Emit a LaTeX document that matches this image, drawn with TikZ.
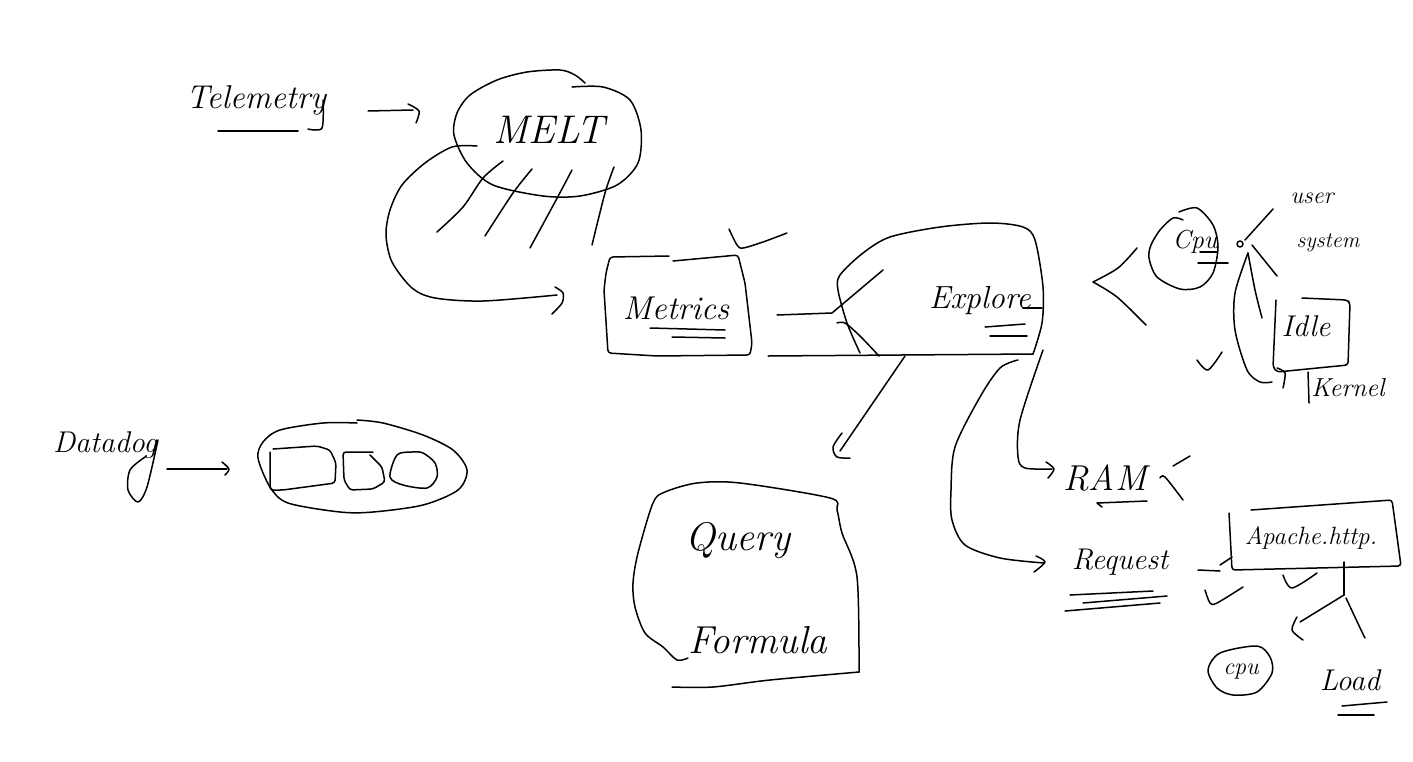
\documentclass[tikz,border=0pt]{standalone}
\usetikzlibrary{calc}
\tikzset{
    ink/.style={line width=1.5pt, line cap=round, line join=round, black},
    boxink/.style={ink, rounded corners=3pt},
    word/.style={inner sep=0pt, font=\fontsize{#1}{#1}\selectfont\itshape},
}

\begin{document}
\begin{tikzpicture}[x=1pt, y=-1pt]

    \useasboundingbox (0,0) rectangle (1413,761);
    \fill[white] (0,0) rectangle (1413,761);

    % words
    \node[word=33] (telemetry) at (256,100) {Telemetry};
    \node[word=40] (melt) at (549,130) {MELT};
    \node[word=33] (metrics) at (676,308) {Metrics};
    \node[word=32] (explore) at (980,300) {Explore};
    \node[word=26] (cpubig) at (1195,242) {Cpu};
    \node[word=24] (user) at (1312,198) {user};
    \node[word=22] (system) at (1328,243) {system};
    \node[word=30] (idle) at (1306,326) {Idle};
    \node[word=26] (kernel) at (1348,388) {Kernel};
    \node[word=30] (datadog) at (105,445) {Datadog};
    \node[word=36] (ram) at (1105,478) {RAM};
    \node[word=30] (request) at (1120,562) {Request};
    \node[word=25] (apache) at (1311,538) {Apache.http.};
    \node[word=40] (query) at (738,540) {Query};
    \node[word=39] (formula) at (758,640) {Formula};
    \node[word=24] (cpusmall) at (1241,672) {cpu};
    \node[word=30] (load) at (1350,680) {Load};

    % connector ends
    \coordinate (telout) at (368,111);
    \coordinate (telin) at (419,111);
    \coordinate (loopout) at (477,146);
    \coordinate (loopin) at (557,295);
    \coordinate (dogout) at (167,469);
    \coordinate (dogin) at (229,469);
    \coordinate (metout) at (777,315);
    \coordinate (queryout) at (905,356);
    \coordinate (queryin) at (840,451);
    \coordinate (requestout) at (1018,360);
    \coordinate (requestin) at (1044,563);
    \coordinate (ramout) at (1043,350);
    \coordinate (ramin) at (1052,469);
    \coordinate (apacheout) at (1198,570);
    \coordinate (apachein) at (1232,557);
    \coordinate (fork) at (1344,595);
    \coordinate (dot) at (1240,244);
    \coordinate (cpufork) at (1093,282);

    % telemetry and melt
    \draw[ink] (218,131) -- (298,131);
    \draw[ink] plot[smooth] coordinates {(308,129) (322,128) (323,100)};
    \draw[ink] (telout) -- (413,110);
    \draw[ink] plot[smooth] coordinates {(408,104) (telin) (416,123)};
    \draw[ink] plot[smooth] coordinates {(585,83) (575,75) (560,70) (527,72) (497,80) (470,95) (457,113) (454,135) (467,163) (493,185) (543,196) (580,196) (617,185) (638,163) (641,130) (630,100) (603,87) (572,87)};
    \draw[ink] plot[smooth] coordinates {(503,161) (483,178) (463,207) (437,232)};
    \draw[ink] plot[smooth] coordinates {(532,169) (513,193) (485,236)};
    \draw[ink] plot[smooth] coordinates {(572,170) (555,202) (530,248)};
    \draw[ink] plot[smooth] coordinates {(614,167) (605,193) (592,245)};
    \draw[ink] plot[smooth] coordinates {(loopout) (452,147) (425,163) (402,185) (390,210) (386,235) (392,262) (412,288) (435,298) (483,301) (loopin)};
    \draw[ink] plot[smooth] coordinates {(555,287) (563,293) (562,303) (552,314)};

    % metrics
    \draw[boxink] (669,256) -- (610,257) -- (606,273) -- (604,290) -- (608,353) -- (657,356) -- (750,355) -- (752,343) -- (745,283) -- (738,255) -- (673,261);
    \draw[ink] plot[smooth] coordinates {(729,229) (737,245) (743,248) (763,242) (787,233)};
    \draw[ink] (650,328) -- (725,330);
    \draw[ink] (672,337) -- (725,338);

    % explore
    \draw[ink] plot[smooth] coordinates {(1033,354) (1042,323) (1043,287) (1035,240) (1023,227) (990,223) (940,227) (890,237) (863,253) (840,275) (838,290) (847,323) (860,353)};
    \draw[ink] (768,356) -- (1033,354);
    \draw[ink] (metout) -- (832,313) -- (883,270);
    \draw[ink] plot[smooth] coordinates {(837,323) (845,323) (860,336) (879,356)};
    \draw[ink] (1023,308) -- (1042,308);
    \draw[ink] (985,327) -- (1025,324);
    \draw[ink] (990,336) -- (1027,336);

    % query
    \draw[ink] (queryout) -- (queryin);
    \draw[ink] plot[smooth] coordinates {(842,433) (833,447) (837,457) (850,458)};
    \draw[ink] plot[smooth] coordinates {(688,658) (677,660) (663,647) (645,633) (635,607) (633,583) (638,553) (653,503) (665,492) (697,483) (740,483) (830,498) (837,510) (842,533) (857,577) (859,672)};
    \draw[ink] plot[smooth] coordinates {(859,672) (770,680) (713,687) (672,687)};

    % request and ram
    \draw[ink] plot[smooth] coordinates {(requestout) (1000,368) (980,397) (955,447) (951,490) (952,520) (965,545) (1000,558) (requestin)};
    \draw[ink] plot[smooth] coordinates {(1036,556) (1045,562) (1034,572)};
    \draw[ink] plot[smooth] coordinates {(ramout) (1020,420) (1018,457) (1025,468) (ramin)};
    \draw[ink] plot[smooth] coordinates {(1046,462) (1054,469) (1048,478)};
    \draw[ink] (1147,501) -- (1097,503) -- (1102,507);
    \draw[ink] (1190,456) -- (1173,466);
    \draw[ink] plot[smooth] coordinates {(1160,478) (1165,477) (1183,500)};
    \draw[ink] (1070,595) -- (1153,591);
    \draw[ink] (1083,603) -- (1167,596);
    \draw[ink] (1065,611) -- (1160,603);

    % apache
    \draw[boxink] (1229,513) -- (1232,570) -- (1401,566) -- (1392,500) -- (1251,510);
    \draw[ink] (apacheout) -- (1220,571);
    \draw[ink] (1220,565) -- (apachein);
    \draw[ink] plot[smooth] coordinates {(1205,590) (1210,603) (1217,603) (1243,587)};
    \draw[ink] plot[smooth] coordinates {(1283,575) (1292,588) (1317,573)};
    \draw[ink] (1344,562) -- (fork);
    \draw[ink] (fork) -- (1300,622);
    \draw[ink] plot[smooth] coordinates {(1297,617) (1292,630) (1303,640)};
    \draw[ink] plot[smooth] coordinates {(1346,598) (1362,632) (1365,638)};
    \draw[ink] plot[smooth cycle] coordinates {(1208,670) (1220,653) (1257,646) (1270,657) (1272,673) (1257,692) (1233,695) (1217,688)};
    \draw[ink] (1342,706) -- (1387,702);
    \draw[ink] (1338,715) -- (1374,715);

    % cpu and idle
    \draw[ink] plot[smooth] coordinates {(1137,248) (1118,268) (cpufork)};
    \draw[ink] plot[smooth] coordinates {(cpufork) (1117,297) (1146,325)};
    \draw[ink] plot[smooth] coordinates {(1183,220) (1173,218) (1160,230) (1151,245) (1149,258) (1157,277) (1180,289) (1200,287) (1213,273) (1218,247) (1213,225) (1197,208) (1179,212)};
    \draw[ink] (1200,252) -- (1217,252);
    \draw[ink] (1198,263) -- (1228,263);
    \draw[ink] (dot) circle (3);
    \draw[ink] (1245,240) -- (1273,209);
    \draw[ink] (1252,245) -- (1277,276);
    \draw[ink] plot[smooth] coordinates {(1248,253) (1255,290) (1262,318)};
    \draw[ink] plot[smooth] coordinates {(1248,253) (1235,293) (1235,330) (1247,370) (1260,382) (1272,382)};
    \draw[ink] plot[smooth] coordinates {(1277,368) (1285,373) (1283,388)};
    \draw[boxink] (1276,300) -- (1273,367) -- (1277,372) -- (1348,365) -- (1350,303) -- (1347,300) -- (1302,298);
    \draw[ink] plot[smooth] coordinates {(1197,360) (1208,370) (1222,352)};
    \draw[ink] (1308,372) -- (1309,403);

    % datadog
    \draw[ink] plot[smooth] coordinates {(158,440) (147,487) (138,502) (128,490) (130,470) (145,457)};
    \draw[ink] (dogout) -- (227,469);
    \draw[ink] plot[smooth] coordinates {(222,462) (dogin) (225,475)};
    \draw[ink] plot[smooth] coordinates {(357,420) (383,423) (423,435) (453,450) (467,470) (458,490) (423,505) (373,512) (340,512) (288,503) (270,487) (258,458) (263,442) (280,430) (323,423) (357,423)};
    \draw[boxink] (270,452) -- (270,490) -- (283,490) -- (335,483) -- (336,463) -- (330,450) -- (317,446) -- (273,449);
    \draw[boxink] (373,452) -- (343,452) -- (344,480) -- (350,490) -- (373,489) -- (385,482) -- (382,467) -- (370,455);
    \draw[ink] plot[smooth cycle] coordinates {(412,452) (397,455) (390,477) (403,485) (427,488) (437,477) (435,463) (423,453)};

\end{tikzpicture}
\end{document}
